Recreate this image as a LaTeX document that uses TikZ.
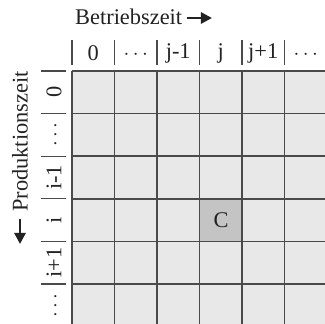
\documentclass[tikz,border=0pt]{standalone}
\usepackage{fontspec}
\setmainfont{Liberation Serif}
\usetikzlibrary{arrows.meta}
\definecolor{cellfill}{HTML}{E8E8E8}
\definecolor{cellhi}{HTML}{C4C4C4}
\definecolor{gridline}{HTML}{4A4A4A}
\definecolor{txt}{HTML}{222222}
\begin{document}
\begin{tikzpicture}[x=1pt,y=-1pt,
  lbl/.style={inner sep=0pt,text=txt,font=\fontsize{22.4}{26}\selectfont},
  sep/.style={draw=gridline,line width=1.2pt},
  gridl/.style={draw=gridline,line width=1.5pt},
  bigarrow/.style={-{Triangle[length=11pt,width=11pt]},line width=2.6pt,draw=txt}]
\useasboundingbox (0,0) rectangle (325,324);
\fill[white] (0,0) rectangle (325,324);
\begin{scope}
\clip (0,0) rectangle (325,324);
\fill[cellfill] (72,71) rectangle (330,330);
\fill[cellhi] (199.5,198.8) rectangle (242,241.4);
\foreach \k in {0,...,6}{
  \draw[gridl] ({72+42.5*\k},71) -- ({72+42.5*\k},330);
  \draw[gridl] (72,{71+42.6*\k}) -- (330,{71+42.6*\k});
}
\end{scope}
\node[lbl] (C) at (221,220) {C};
% column header
\foreach \k in {0,...,5}{
  \draw[sep] ({72+42.5*\k},40) -- ({72+42.5*\k},65);
  \draw[sep] (41,{71+42.6*\k}) -- (66,{71+42.6*\k});
}
\node[lbl] (c0) at (93.25,53) {0};
\node[lbl] (c1) at (135.75,55) {$\cdots$};
\node[lbl] (c2) at (178.25,53) {j-1};
\node[lbl] (c3) at (220.75,53) {j};
\node[lbl] (c4) at (263.25,53) {j+1};
\node[lbl] (c5) at (305.75,55) {$\cdots$};
% row header
\node[lbl,rotate=90] (r0) at (54,92.3) {0};
\node[lbl,rotate=90] (r1) at (56,134.9) {$\cdots$};
\node[lbl,rotate=90] (r2) at (54,177.5) {i-1};
\node[lbl,rotate=90] (r3) at (54,220.1) {i};
\node[lbl,rotate=90] (r4) at (54,262.7) {i+1};
\node[lbl,rotate=90] (r5) at (56,305.3) {$\cdots$};
% axis titles
\node[lbl,anchor=west] (bz) at (75,17) {Betriebszeit};
\coordinate (bza) at (212,18);
\draw[bigarrow] ([xshift=5pt]bz.east |- bza) -- (bza);
\node[lbl,rotate=90,anchor=west] (pz) at (20,212) {Produktionszeit};
\coordinate (pza) at (20,244);
\draw[bigarrow] (20,219) -- (pza);
\end{tikzpicture}
\end{document}
